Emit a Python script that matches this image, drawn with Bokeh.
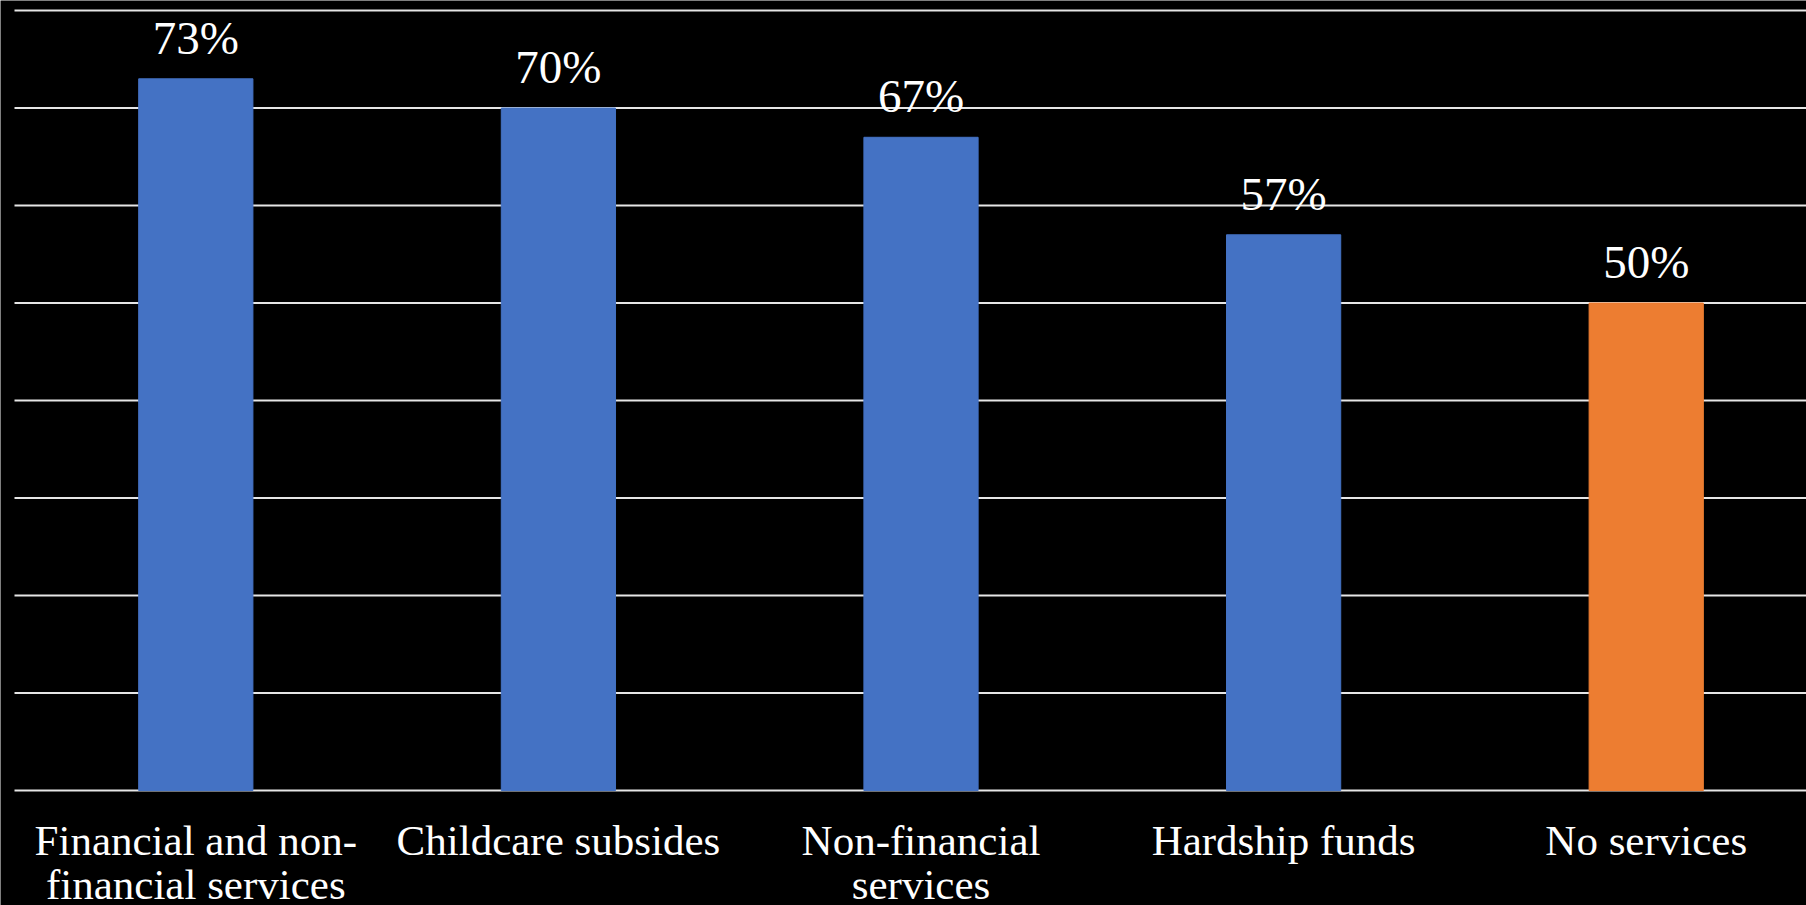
from bokeh.plotting import figure
from bokeh.models import ColumnDataSource, Range1d
from bokeh.core.properties import value
from bokeh.embed import file_html
from bokeh.resources import INLINE

categories = ["Financial and non-\nfinancial services", "Childcare subsides",
              "Non-financial\nservices", "Hardship funds", "No services"]
values = [73, 70, 67, 57, 50]
bar_colors = ["#4472C4", "#4472C4", "#4472C4", "#4472C4", "#ED7D31"]
grid_ticks = [0, 10, 20, 30, 40, 50, 60, 70, 80]

xs = [i + 0.5 for i in range(len(categories))]
src = ColumnDataSource(dict(
    x=xs, top=values, color=bar_colors, cat=categories,
    lab=[f"{v}%" for v in values], zero=[0] * len(values),
))
grid_src = ColumnDataSource(dict(
    x0=[0] * len(grid_ticks), x1=[len(categories)] * len(grid_ticks),
    y=grid_ticks,
))

FONT = "Liberation Serif"

p = figure(width=1806, height=905, output_backend="svg", toolbar_location=None,
           x_range=Range1d(-0.0386, 4.942), y_range=Range1d(-11.79, 81.03),
           x_axis_location=None, y_axis_location=None,
           min_border_left=0, min_border_right=0, min_border_top=0, min_border_bottom=0,
           background_fill_color="black", border_fill_color="black")
p.outline_line_color = None
p.grid.visible = False

p.segment(x0="x0", x1="x1", y0="y", y1="y", source=grid_src,
          line_color="#e6e6e6", line_width=2)

p.vbar(x="x", top="top", bottom=0, width=0.315, color="color", source=src)

p.text(x="x", y="top", text="lab", source=src, y_offset=-41,
       text_align="center", text_baseline="alphabetic",
       text_font=value(FONT), text_font_size="47px", text_color="white")

p.text(x="x", y="zero", text="cat", source=src, y_offset=26,
       text_align="center", text_baseline="top", text_line_height=0.95,
       text_font=value(FONT), text_font_size="43px", text_color="white")

open("out.html", "w").write(file_html(p, INLINE))
